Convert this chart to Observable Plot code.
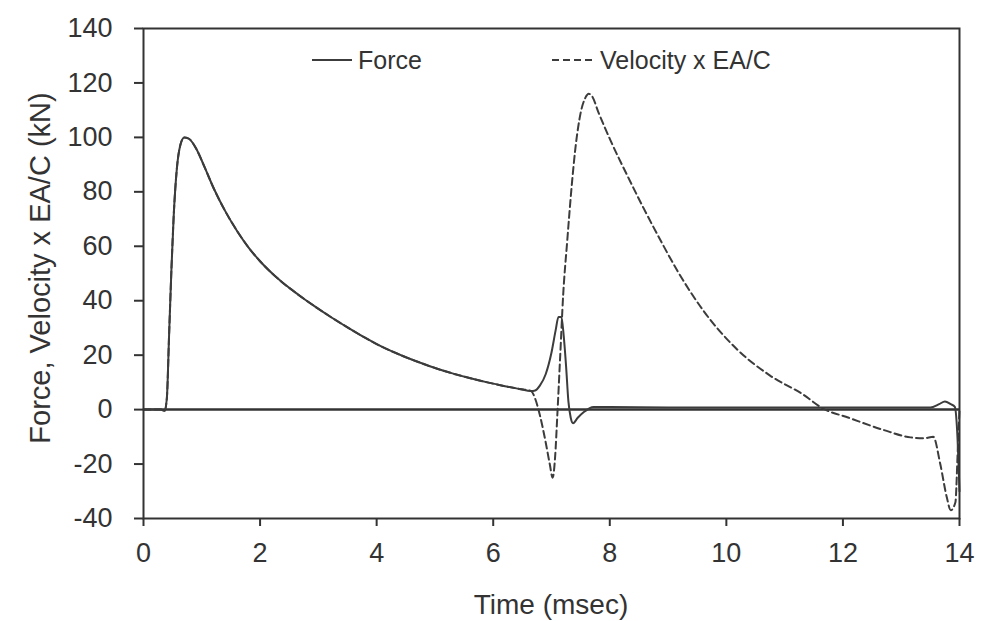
<!DOCTYPE html>
<html><head><meta charset="utf-8">
<script src="https://cdn.jsdelivr.net/npm/d3@7"></script>
<script src="https://cdn.jsdelivr.net/npm/@observablehq/plot@0.6"></script>
<style>body{margin:0;background:#fff;}</style>
</head><body><div id="chart"></div>
<script>
// ---- data ----
const forceTime  = [0,0.30,0.36,0.40,0.44,0.48,0.52,0.57,0.63,0.70,0.78,0.90,1.05,1.20,1.40,1.60,1.80,2.00,2.35,2.65,2.92,3.20,3.50,3.80,4.07,4.46,4.75,5.04,5.30,5.61,5.90,6.18,6.45,6.65,6.72,6.80,6.90,7.00,7.07,7.12,7.17,7.21,7.25,7.29,7.33,7.37,7.45,7.55,7.72,8.00,9.00,10.00,11.00,12.00,13.00,13.50,13.65,13.75,13.85,13.92,13.96,14.00];
const forceValue = [0,0,-0.5,4,28,52,72,88,97,100,99.5,96,89,81.5,73,65.8,59.6,54.5,47.3,42.3,38.2,34.2,30.2,26.4,23.3,19.6,17.2,15.0,13.3,11.5,10.0,8.7,7.6,6.8,7,8.8,13,21,29,34,34,27,16,3,-3,-5,-3,-1,1,1,0.8,0.8,0.8,0.8,0.8,0.8,2,3,2,1,-8,-30];
const velocityTime  = [0,0.30,0.36,0.40,0.44,0.48,0.52,0.57,0.63,0.70,0.78,0.90,1.05,1.20,1.40,1.60,1.80,2.00,2.35,2.65,2.92,3.20,3.50,3.80,4.07,4.46,4.75,5.04,5.30,5.61,5.90,6.18,6.45,6.65,6.72,6.80,6.90,6.97,7.02,7.06,7.10,7.15,7.20,7.27,7.35,7.41,7.50,7.58,7.64,7.70,7.80,8.01,8.30,8.58,8.90,9.16,9.60,10.19,10.75,11.32,11.65,12.10,12.70,13.16,13.40,13.55,13.67,13.78,13.85,13.93,13.97,14.00];
const velocityValue = [0,0,-0.5,4,28,52,72,88,97,100,99.5,96,89,81.5,73,65.8,59.6,54.5,47.3,42.3,38.2,34.2,30.2,26.4,23.3,19.6,17.2,15.0,13.3,11.5,10.0,8.7,7.6,6.8,4,-2,-12,-20,-25,-18,-2,20,42,62,83,96,109,114.5,116,115,109.5,99,86,74,61,51,36.5,22,12.5,5.5,0.5,-3,-7.5,-10.2,-10.5,-10,-20,-32,-37,-34,-15,0];
const seriesNames = ["Force", "Velocity x EA/C"];
const xTicks = [0,2,4,6,8,10,12,14];
const yTicks = [-40,-20,0,20,40,60,80,100,120,140];
const xTitle = "Time (msec)";
const yTitle = "Force, Velocity x EA/C (kN)";

const force = forceTime.map((t, i) => ({t, v: forceValue[i]}));
const velocity = velocityTime.map((t, i) => ({t, v: velocityValue[i]}));

const ink = "#333";
const lineInk = "#3c3c3c";
const font = "'Liberation Sans', Arial, sans-serif";

const plot = Plot.plot({
  width: 981, height: 621,
  marginLeft: 143, marginRight: 22, marginTop: 28, marginBottom: 103,
  style: {fontFamily: font, fontSize: "27px", color: ink, background: "#fff"},
  x: {domain: [0, 14]},
  y: {domain: [-40, 140]},
  marks: [
    Plot.ruleY([0], {stroke: ink, strokeWidth: 2.5}),
    Plot.line(velocity, {x: "t", y: "v", stroke: lineInk, strokeWidth: 2, strokeDasharray: "7,4", curve: "monotone-x"}),
    Plot.line(force, {x: "t", y: "v", stroke: lineInk, strokeWidth: 2, curve: "monotone-x"}),
    Plot.frame({stroke: ink, strokeWidth: 2}),
    Plot.axisX({ticks: xTicks, tickSize: 8, tickPadding: 16, label: null, stroke: ink, strokeWidth: 2, fontSize: 27, tickFormat: d => String(d)}),
    Plot.axisY({ticks: yTicks, tickSize: 9, tickPadding: 22, label: null, stroke: ink, strokeWidth: 2, fontSize: 27, tickFormat: d => String(d)})
  ]
});
document.getElementById("chart").appendChild(plot);

const svg = d3.select(plot);
const g = svg.append("g").attr("font-family", font).attr("fill", ink);
g.append("text").attr("x", 551).attr("y", 614).attr("text-anchor", "middle").attr("font-size", 28).text(xTitle);
g.append("text").attr("transform", "translate(50,268) rotate(-90)").attr("text-anchor", "middle").attr("font-size", 29).text(yTitle);
// legend
g.append("line").attr("x1", 312).attr("x2", 352).attr("y1", 60).attr("y2", 60).attr("stroke", lineInk).attr("stroke-width", 2);
g.append("text").attr("x", 358).attr("y", 69).attr("text-anchor", "start").attr("font-size", 25).text(seriesNames[0]);
g.append("line").attr("x1", 552).attr("x2", 592).attr("y1", 60).attr("y2", 60).attr("stroke", lineInk).attr("stroke-width", 2).attr("stroke-dasharray", "7,4");
g.append("text").attr("x", 600).attr("y", 69).attr("text-anchor", "start").attr("font-size", 25).text(seriesNames[1]);
</script>
</body></html>
